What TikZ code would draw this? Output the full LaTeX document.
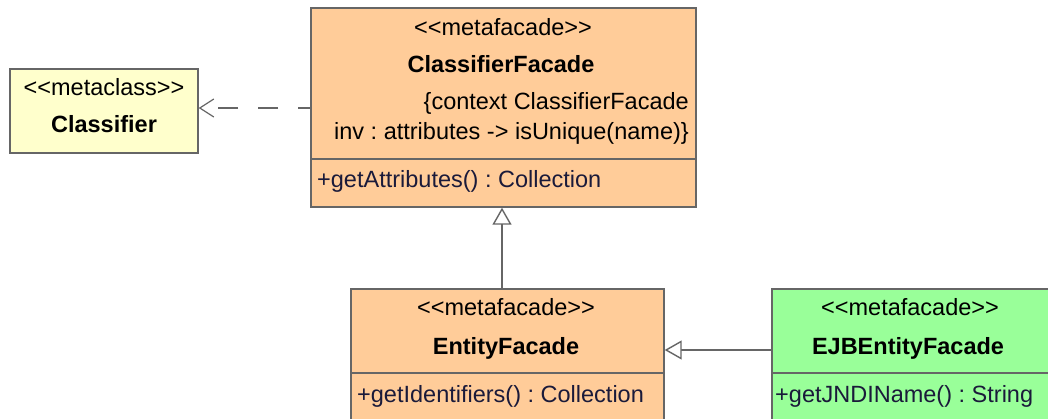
\documentclass[tikz,border=0pt]{standalone}
\usepackage{fontspec}
\setmainfont[Ligatures=NoCommon]{Liberation Sans}
\frenchspacing
\usetikzlibrary{arrows.meta}
\definecolor{orangefill}{HTML}{FFCC99}
\definecolor{yellowfill}{HTML}{FFFFCC}
\definecolor{greenfill}{HTML}{99FF99}
\definecolor{boxline}{HTML}{666666}
\definecolor{optext}{HTML}{1A1A3A}
\tikzset{
  classbox/.style={draw=boxline, line width=1.4pt, rectangle, inner sep=0pt},
  sepline/.style={draw=boxline, line width=1.4pt},
  stereo/.style={anchor=base, inner sep=0pt, font=\fontsize{23.5}{30}\selectfont},
  cname/.style={anchor=base, inner sep=0pt, font=\fontsize{23.5}{30}\selectfont\bfseries},
  optxt/.style={anchor=base west, inner sep=0pt, text=optext, font=\fontsize{23.5}{30}\selectfont},
  connector/.style={draw=boxline, line width=1.4pt},
  realize/.style={connector, -{Triangle[open, length=17pt, width=19pt, fill=white]}},
  depend/.style={connector, dash pattern=on 20pt off 20pt, dash phase=7pt, -{Straight Barb[length=14pt, width=18pt, line width=1.2pt]}}
}
\newcommand{\lt}{<\kern0pt}
\newcommand{\gt}{>\kern0pt}
\begin{document}
\begin{tikzpicture}[x=1pt, y=-1pt]
\useasboundingbox (0,0) rectangle (1048,419);
\clip (0,0) rectangle (1048,419);
\fill[white] (0,0) rectangle (1048,419);
% boxes
\node[classbox, fill=yellowfill, minimum width=188pt, minimum height=84pt] (cl) at (104,111) {};
\node[classbox, fill=orangefill, minimum width=385pt, minimum height=199pt] (cf) at (503.5,107.5) {};
\node[classbox, fill=orangefill, minimum width=313pt, minimum height=171pt] (ef) at (507.5,374.5) {};
\node[classbox, fill=greenfill, minimum width=298pt, minimum height=171pt] (ejb) at (921,374.5) {};
% separators
\coordinate (cfsep) at (311,159);
\coordinate (efsep) at (351,373);
\coordinate (ejbsep) at (772,373);
\draw[sepline] (cfsep) -- (cfsep -| cf.east);
\draw[sepline] (efsep) -- (efsep -| ef.east);
\draw[sepline] (ejbsep) -- (ejbsep -| ejb.east);
% texts Classifier
\node[stereo] (clst) at (104,96) {\lt\lt metaclass\gt\gt};
\node[cname] (clnm) at (104,133) {Classifier};
% ClassifierFacade
\node[stereo] (cfst) at (503,36) {\lt\lt metafacade\gt\gt};
\node[cname] (cfnm) at (501,73) {ClassifierFacade};
\node[anchor=base east, inner sep=0pt, font=\fontsize{23.5}{30}\selectfont] (cfc1) at (689,110) {\{context ClassifierFacade};
\node[anchor=base east, inner sep=0pt, font=\fontsize{23.5}{30}\selectfont] (cfc2) at (689,140) {inv : attributes -\gt{} isUnique(name)\}};
\node[optxt] (cfop) at (317,188) {+getAttributes() : Collection};
% EntityFacade
\node[stereo] (efst) at (506,316) {\lt\lt metafacade\gt\gt};
\node[cname] (efnm) at (506,354) {EntityFacade};
\node[optxt] (efop) at (357,402) {+getIdentifiers() : Collection};
% EJBEntityFacade
\node[stereo] (ejbst) at (910,316) {\lt\lt metafacade\gt\gt};
\node[cname] (ejbnm) at (908,354) {EJBEntityFacade};
\node[optxt] (ejbop) at (775,402) {+getJNDIName() : String};
% connectors
\coordinate (dep) at (311,108);
\draw[depend] (dep) -- (dep -| cl.east);
\coordinate (gen1) at (502,289);
\draw[realize] (gen1) -- (gen1 |- cf.south);
\coordinate (gen2) at (772,350);
\draw[realize] (gen2) -- (gen2 -| ef.east);
\end{tikzpicture}
\end{document}
